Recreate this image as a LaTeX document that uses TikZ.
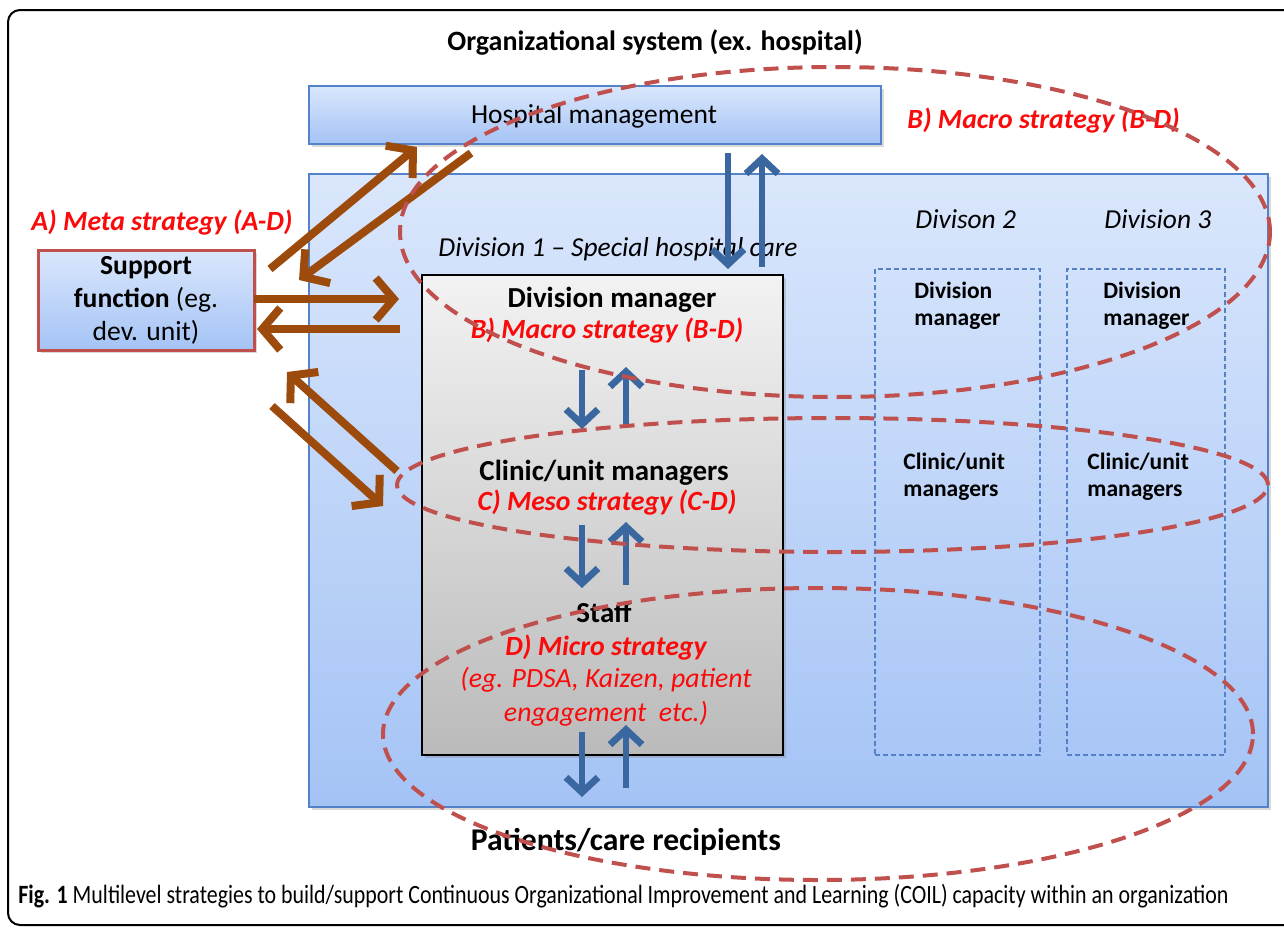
\documentclass[tikz,border=0pt]{standalone}
\usepackage{fontspec}
\setmainfont{Carlito}
\newfontfamily\capfont[FakeStretch=0.83]{Carlito}
\usetikzlibrary{shapes.geometric, positioning, arrows.meta, shadows}

\definecolor{panelline}{RGB}{84,130,200}
\definecolor{paneltop}{RGB}{218,231,252}
\definecolor{panelbottom}{RGB}{164,195,245}
\definecolor{flowblue}{RGB}{58,103,160}
\definecolor{linkbrown}{RGB}{156,75,12}
\definecolor{ringred}{RGB}{192,80,77}
\definecolor{strategyred}{RGB}{250,10,10}

\begin{document}
\begin{tikzpicture}[x=0.5pt, y=0.5pt,
  panel/.style={draw=panelline, line width=0.8pt, top color=paneltop, bottom color=panelbottom, inner sep=0pt},
  softshadow/.style={drop shadow={shadow xshift=1.5pt, shadow yshift=-1.5pt, opacity=0.3}},
  divbox/.style={draw=panelline, line width=0.6pt, dash pattern=on 2.5pt off 1.5pt, minimum height=243pt, inner sep=0pt},
  level/.style={font=\sizept{14.5}{17}\bfseries, inner sep=0pt},
  minor/.style={font=\sizept{11.75}{14}\bfseries, inner sep=0pt},
  divname/.style={font=\sizept{13.7}{16}\itshape, inner sep=0pt},
  strategy/.style={text=strategyred, font=\sizept{13.9}{16}\bfseries\itshape, inner sep=0pt},
  ring/.style={ellipse, draw=ringred, line width=2pt, dash pattern=on 7.5pt off 4.5pt, inner sep=0pt},
  feedback/.style={draw=flowblue, line width=3.4pt, -{Straight Barb[length=7.5pt, width=16pt]}},
  supportlink/.style={draw=linkbrown, line width=4pt, -{Straight Barb[length=9pt, width=21pt]}},
]
  \newcommand\sizept[2]{\fontsize{#1}{#2}\selectfont}

  \useasboundingbox (0,0) rectangle (1284,-927);
  \draw[line width=1pt, rounded corners=6pt] (1284,-10) -- (8,-10) -- (8,-925) -- (1284,-925);

  \node[font=\sizept{14}{17}\bfseries, anchor=base] (orgtitle) at (655,-50) {Organizational system (ex. hospital)};

  % panels and boxes
  \node[panel, softshadow, minimum width=479.5pt, minimum height=316.5pt] (hospsys) at (788.5,-490.5) {};
  \node[panel, softshadow, minimum width=286pt, minimum height=29pt] (hospmgmt) at (595,-115) {};
  \node[font=\sizept{13.75}{16}, anchor=base, inner sep=0pt] (hospname) at (594,-123) {Hospital management};
  \node[draw, line width=0.8pt, top color=black!5, bottom color=black!27, softshadow, minimum width=180.5pt, minimum height=240pt, inner sep=0pt] (div1) at (602.5,-515) {};
  \node[divbox, minimum width=82.5pt] (div2) at (957.5,-512) {};
  \node[divbox, minimum width=79pt] (div3) at (1146,-512) {};
  \node[draw=ringred, line width=1.5pt, top color=paneltop, bottom color=panelbottom, softshadow, minimum width=108pt, minimum height=50pt, inner sep=0pt, align=center, font=\sizept{13.8}{16.5}] (support) at (146,-300) {\textbf{Support}\\\textbf{function} (eg.\\dev. unit)};

  \node[strategy, anchor=base west] (metastrat) at (31,-230) {A) Meta strategy (A-D)};
  \node[strategy, anchor=base west] (macrostrat) at (907,-128) {B) Macro strategy (B-D)};
  \node[divname, anchor=base west] (div1name) at (438,-256) {Division 1 – Special hospital care};
  \node[divname, anchor=base west] (div2name) at (915,-228) {Divison 2};
  \node[divname, anchor=base west] (div3name) at (1104,-228) {Division 3};

  \foreach \col/\mx/\cx in {2/914/903, 3/1103/1087} {
    \node[minor, anchor=base west] (dm\col-a) at (\mx,-298) {Division};
    \node[minor, anchor=base west] (dm\col-b) at (\mx,-325) {manager};
    \node[minor, anchor=base west] (cm\col-a) at (\cx,-469) {Clinic/unit};
    \node[minor, anchor=base west] (cm\col-b) at (\cx,-496) {managers};
  }

  % levels inside division 1
  \node[level, anchor=base] (dmname) at (612,-307) {Division manager};
  \node[strategy, anchor=base] (dmstrat) at (607,-338) {B) Macro strategy (B-D)};
  \node[level, anchor=base] (cmname) at (604,-480) {Clinic/unit managers};
  \node[strategy, anchor=base] (cmstrat) at (607,-510) {C) Meso strategy (C-D)};
  \node[level, anchor=base] (staffname) at (604,-622) {Staff};
  \node[strategy, anchor=base] (staffstrat) at (606,-655) {D) Micro strategy};
  \node[strategy, font=\sizept{13.9}{16}\itshape, anchor=base] (staffeg) at (606,-687) {(eg. PDSA, Kaizen, patient};
  \node[strategy, font=\sizept{13.9}{16}\itshape, anchor=base] (staffeg2) at (606,-721) {engagement\ \ etc.)};

  \node[font=\sizept{15.8}{18}\bfseries, anchor=base] (patients) at (626,-850) {Patients/care recipients};
  \node[font=\capfont\sizept{13.2}{15}, anchor=base west, inner sep=0pt] (caption) at (18,-903) {\textbf{Fig. 1} Multilevel strategies to build/support Continuous Organizational Improvement and Learning (COIL) capacity within an organization};

  % up and down between the levels
  \coordinate (hm-out) at (728,-153);
  \coordinate (div1-in) at (728,-269);
  \coordinate (div1-out) at (762,-267);
  \coordinate (hm-in) at (762,-154);
  \draw[feedback] (hm-out) -- (div1-in);
  \draw[feedback] (div1-out) -- (hm-in);
  \foreach \da/\db/\ua/\ub [count=\i] in {370/429/427/367, 525/588/585/522, 732/797/788/725} {
    \coordinate (down\i-a) at (582,-\da);
    \coordinate (down\i-b) at (582,-\db);
    \coordinate (up\i-a) at (626,-\ua);
    \coordinate (up\i-b) at (626,-\ub);
    \draw[feedback] (down\i-a) -- (down\i-b);
    \draw[feedback] (up\i-a) -- (up\i-b);
  }

  % support function links
  \foreach \sx/\sy/\ex/\ey [count=\i] in {270/269/417/147, 471/153/299/280, 254/299/399/299, 400/329/257/329, 397/471/287/372, 272/406/383/506} {
    \coordinate (link\i-a) at (\sx,-\sy);
    \coordinate (link\i-b) at (\ex,-\ey);
    \draw[supportlink] (link\i-a) -- (link\i-b);
  }

  % strategy rings
  \node[ring, minimum width=435pt, minimum height=165pt] (macroring) at (835,-232) {};
  \node[ring, minimum width=435.5pt, minimum height=67pt] (mesoring) at (832.5,-485) {};
  \node[ring, minimum width=435pt, minimum height=146pt] (microring) at (818,-734) {};
\end{tikzpicture}
\end{document}
